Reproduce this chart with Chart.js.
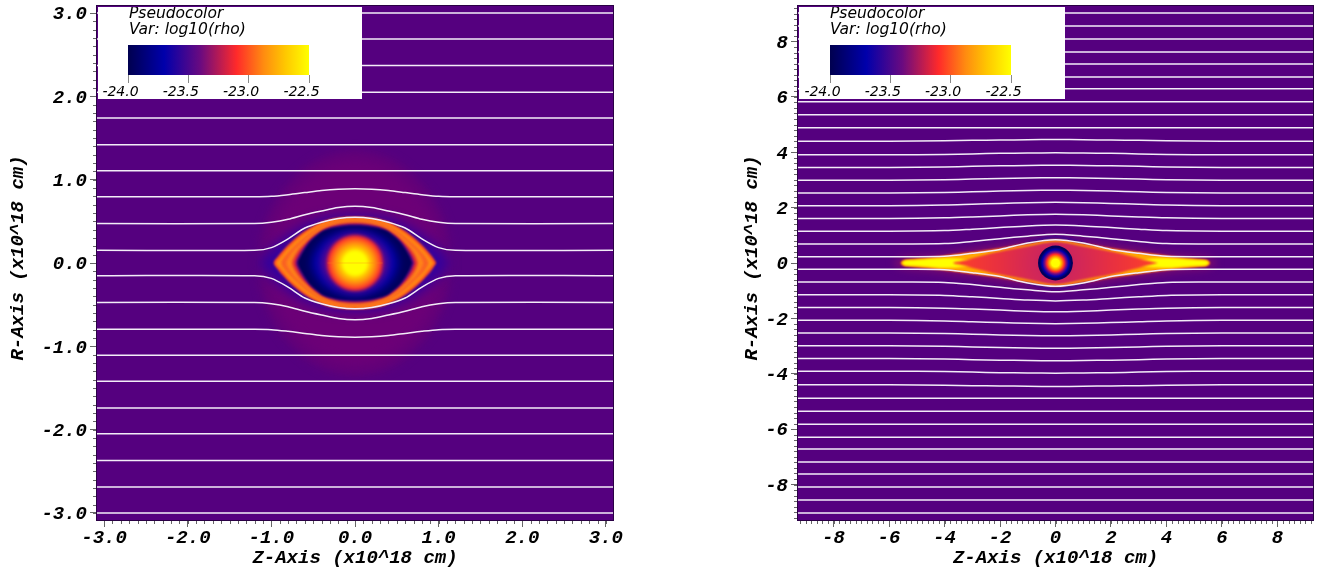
<!DOCTYPE html>
<html><head><meta charset="utf-8">
<style>
html,body{margin:0;padding:0;background:#fff;width:1328px;height:574px;overflow:hidden}
canvas{position:absolute;display:block}
#lp{background:#fff}#rp{background:#fff}
#ll,#rl{background:#fff}
</style>
<script src="https://cdn.jsdelivr.net/npm/chart.js@4"></script>
</head><body>
<canvas id="lp" width="664" height="574" style="left:0;top:0;width:664px;height:574px"></canvas>
<canvas id="rp" width="664" height="574" style="left:664px;top:0;width:664px;height:574px"></canvas>
<canvas id="ll" width="264" height="92" style="left:98px;top:7px;width:264px;height:92px"></canvas>
<canvas id="rl" width="266" height="92" style="left:799px;top:7px;width:266px;height:92px"></canvas>
<script>
// ---------- axis data ----------
const axisTitleX = 'Z-Axis (x10^18 cm)';
const axisTitleY = 'R-Axis (x10^18 cm)';
const leftRange = 3.085;
const leftTicks = [-3,-2,-1,0,1,2,3];
const rightRange = 9.28;
const rightTicks = [-8,-6,-4,-2,0,2,4,6,8];
const colorbarTicks = [-24,-23.5,-23,-22.5];
const colorbarStops = [[0,'#00004f'],[0.2,'#0000ab'],[0.4,'#6a0a80'],[0.6,'#ff2a2a'],[0.75,'#ff8c10'],[0.87,'#ffc800'],[1,'#ffff00']];
const legendLines = ['Pseudocolor','Var: log10(rho)'];
const bgColor = '#55007f';

// ---------- left panel contours: first quadrant, tip -> top, mirrored when drawn ----------
const lHaloOuter = [[1.16,0],[1.1,.42],[.95,.76],[.7,1.06],[.4,1.27],[0,1.36]];
const lHaloInner = [[1.02,0],[.98,.36],[.85,.68],[.62,.95],[.35,1.14],[0,1.22]];
const lBlueGlow  = [[1.14,0],[1.03,.15],[.87,.29],[.68,.42],[.42,.53],[.2,.57],[0,.58]];
const lEdge      = [[.972,0],[.92,.08],[.853,.16],[.733,.28],[.573,.40],[.373,.50],[.2,.54],[0,.553]];
const lOrangeA   = [[.945,0],[.89,.07],[.82,.155],[.71,.265],[.555,.385],[.365,.485],[.2,.525],[0,.54]];
const lRedA      = [[.885,0],[.84,.08],[.77,.16],[.67,.255],[.53,.37],[.35,.47],[.19,.515],[0,.53]];
const lOrangeB   = [[.82,0],[.79,.07],[.73,.155],[.64,.24],[.51,.355],[.34,.455],[.18,.5],[0,.515]];
const lRedB      = [[.75,0],[.72,.08],[.66,.17],[.585,.25],[.49,.335],[.35,.42],[.18,.47],[0,.485]];
const lPurple    = [[.71,0],[.68,.08],[.625,.17],[.555,.255],[.47,.33],[.35,.405],[.18,.452],[0,.465]];
const lCavity    = [[.685,0],[.653,.08],[.6,.17],[.533,.26],[.45,.335],[.373,.39],[.25,.425],[.12,.445],[0,.449]];
const lBlue      = [[.52,0],[.48,.14],[.38,.27],[.25,.35],[.12,.39],[0,.40]];
const lInnerPur  = [[.40,0],[.37,.12],[.29,.23],[.19,.30],[.09,.34],[0,.35]];
const lCore      = [[.34,0],[.315,.13],[.24,.24],[.13,.315],[0,.34]];
const lCoreStops = [[0,'#ffff00'],[.4,'#ffff00'],[.52,'#ffc800'],[.7,'#ff8c10'],[.9,'#ff3a28'],[1,'rgba(200,20,70,.7)']];
const lCoreRadius = .34;
const lStreak = [[-.33,0],[.33,0]];

// ---------- left panel streamlines ----------
const lStreamHalfX = [0,.2,.4,.6,.8,1.0,1.2,3.085];
const lStreamC = [.55,.535,.49,.42,.29,.185,.153,.153];
const lStreamB = [.68,.665,.625,.58,.525,.49,.475,.473];
const lStreamA = [.89,.885,.87,.845,.82,.80,.795,.795];
const lFlatLevels = [1.108,1.42,1.74,2.05,2.37,2.69,3.0];

// ---------- right panel contours ----------
const rHalo   = [[5.85,0],[5.5,.22],[4.4,.33],[3.2,.5],[2.1,.66],[.9,.87],[0,1.0]];
const rBlue   = [[1.5,0],[1.25,.6],[.6,.86],[0,.94]];
const rEdge   = [[5.58,0],[5.47,.1],[5.2,.13],[4.4,.22],[3.2,.37],[2.1,.52],[.9,.72],[.4,.82],[0,.86]];
const rOrange = [[5.55,0],[5.43,.09],[5.15,.115],[4.3,.18],[3.2,.33],[2.1,.47],[.9,.67],[.4,.78],[0,.81]];
const rYellow = [[5.53,0],[5.42,.08],[5.1,.1],[4.4,.15],[3.9,.17],[3.3,.13],[2.9,0]];
const rRedLens= [[3.7,0],[3.3,.09],[2.8,.23],[2.1,.40],[.9,.62],[.4,.73],[0,.77]];
const rLensStops = [[0,'#b81c5c'],[.2,'#d0265a'],[.55,'#e83040'],[1,'#ff4028']];
const rLensRadius = 3.7;
const rCavity = [[.63,0],[.58,.24],[.445,.445],[.24,.58],[0,.63]];
const rCavityStops = [[0,'#ffff00'],[.22,'#ffff00'],[.36,'#ffa000'],[.5,'#ff2a2a'],[.62,'#7a0a80'],[.76,'#0000b0'],[.9,'#00005a'],[1,'#00005a']];
const rCavityRadius = .63;

// ---------- right panel streamlines ----------
const rStreamHalfX = [0,1,2,3,4,6,9.28];
const rStream0 = [.84,.72,.49,.35,.24,.23,.23];
const rStream1 = [1.04,.97,.88,.78,.70,.69,.69];
const rStream2 = [1.37,1.34,1.28,1.22,1.17,1.15,1.15];
const rStream3 = [1.76,1.74,1.70,1.66,1.63,1.61,1.61];
const rStream4 = [2.19,2.18,2.15,2.12,2.09,2.07,2.07];
const rStream5 = [2.63,2.62,2.60,2.57,2.55,2.53,2.53];
const rStream6 = [3.08,3.07,3.05,3.03,3.01,2.99,2.99];
const rStream7 = [3.53,3.52,3.51,3.49,3.47,3.45,3.45];
const rStream8 = [3.98,3.97,3.96,3.94,3.92,3.91,3.91];
const rStream9 = [4.46,4.45,4.44,4.43,4.41,4.40,4.40];
const rFlatLevels = [4.88,5.35,5.82,6.29,6.72,7.19,7.62,8.09,8.56,9.03];

// ---------- helpers ----------
function outline(q){
  const pts = q.map(p=>({x:p[0],y:p[1]}));
  for(let i=q.length-2;i>=0;i--) pts.push({x:-q[i][0],y:q[i][1]});
  for(let i=1;i<q.length;i++) pts.push({x:-q[i][0],y:-q[i][1]});
  for(let i=q.length-2;i>=0;i--) pts.push({x:q[i][0],y:-q[i][1]});
  return pts;
}
function tipShape(q,sign){
  const pts = q.map(p=>({x:sign*p[0],y:p[1]}));
  for(let i=q.length-2;i>=0;i--) pts.push({x:sign*q[i][0],y:-q[i][1]});
  return pts;
}
function radial(stops,radius,fallback){
  return c=>{
    const ch=c.chart; if(!ch.chartArea) return fallback;
    const cx=ch.scales.x.getPixelForValue(0), cy=ch.scales.y.getPixelForValue(0);
    const r=Math.abs(ch.scales.x.getPixelForValue(radius)-cx);
    const g=ch.ctx.createRadialGradient(cx,cy,0,cx,cy,r);
    stops.forEach(s=>g.addColorStop(s[0],s[1]));
    return g;
  };
}
const shell=(data,color,blur,tension=.35)=>({data,backgroundColor:color,borderWidth:0,fill:'shape',pointRadius:0,showLine:true,tension,blurPx:blur});
const stroke=(data,color,width,tension=.3)=>({data,borderColor:color,borderWidth:width,fill:false,pointRadius:0,showLine:true,tension,blurPx:0});
const lineColor='#f3ecf8', lineWidth=1.5;
function streamlines(halfX,rows,flats,range){
  const out=[];
  rows.forEach(r=>{
    [1,-1].forEach(s=>{
      const pts=[];
      for(let i=halfX.length-1;i>0;i--) pts.push({x:-halfX[i],y:s*r[i]});
      for(let i=0;i<halfX.length;i++) pts.push({x:halfX[i],y:s*r[i]});
      out.push(stroke(pts,lineColor,lineWidth));
    });
  });
  flats.forEach(v=>{[1,-1].forEach(s=>out.push(stroke([{x:-range,y:s*v},{x:range,y:s*v}],lineColor,lineWidth,0)));});
  return out;
}
const panelPlugin={
  id:'panel',
  beforeDraw(ch){
    const a=ch.chartArea,c=ch.ctx;
    c.save();c.fillStyle=bgColor;c.fillRect(a.left,a.top,a.width,a.height);c.restore();
  },
  beforeDatasetsDraw(ch){ const d=ch.data.datasets[0]; ch.ctx.filter=d.blurPx?`blur(${d.blurPx}px)`:'none'; },
  afterDatasetDraw(ch,args){
    const d=ch.data.datasets[args.index+1];
    ch.ctx.filter=(d&&d.blurPx)?`blur(${d.blurPx}px)`:'none';
  },
  afterDatasetsDraw(ch){ ch.ctx.filter='none'; },
  afterDraw(ch,args,opts){
    const c=ch.ctx,a=ch.chartArea,xs=ch.scales.x,ys=ch.scales.y,step=opts.minorStep,range=opts.range;
    c.save();
    c.strokeStyle='#666';c.lineWidth=1;
    c.beginPath();
    const n=Math.floor(range/step);
    for(let i=-n;i<=n;i++){
      const v=i*step;
      const px=Math.round(xs.getPixelForValue(v))+.5;
      c.moveTo(px,a.bottom);c.lineTo(px,a.bottom+4);
      const py=Math.round(ys.getPixelForValue(v))+.5;
      c.moveTo(a.left,py);c.lineTo(a.left-4,py);
    }
    c.stroke();
    c.strokeStyle='#2a0045';
    c.strokeRect(a.left-.5,a.top-.5,a.width+1,a.height+1);
    // y-axis title, centred slightly above the plot middle as in the reference
    c.translate(opts.titleX,258);c.rotate(-Math.PI/2);
    c.font='italic bold 19px "Liberation Mono"';c.fillStyle='#000';c.textAlign='center';c.textBaseline='middle';
    c.fillText(axisTitleY,0,0);
    c.restore();
  }
};
function makePanel(id,datasets,range,ticks,fmt,leftW,rightPad,minorStep,titleX){
  const axisFont={family:'Liberation Mono',weight:'bold',style:'italic',size:19};
  datasets.forEach((d,i)=>{d.order=datasets.length-i;});
  return new Chart(document.getElementById(id),{
    type:'scatter',
    data:{datasets},
    plugins:[panelPlugin],
    options:{
      responsive:false,animation:false,devicePixelRatio:1,
      layout:{padding:{top:6,right:rightPad,left:0,bottom:0}},
      plugins:{legend:{display:false},tooltip:{enabled:false},title:{display:false},panel:{minorStep,range,titleX}},
      scales:{
        x:{type:'linear',min:-range,max:range,
          afterBuildTicks:s=>{s.ticks=ticks.map(v=>({value:v}));},
          afterFit:s=>{s.height=54;s.paddingLeft=0;s.paddingRight=0;},
          grid:{drawOnChartArea:false,drawTicks:true,tickLength:7,color:'#666'},border:{display:false},
          ticks:{callback:fmt,font:axisFont,color:'#000',padding:0,maxRotation:0,autoSkip:false},
          title:{display:true,text:axisTitleX,font:axisFont,color:'#000',padding:{top:0,bottom:4}}},
        y:{type:'linear',min:-range,max:range,
          afterBuildTicks:s=>{s.ticks=ticks.map(v=>({value:v}));},
          afterFit:s=>{s.width=leftW;s.paddingTop=0;s.paddingBottom=0;},
          grid:{drawOnChartArea:false,drawTicks:true,tickLength:7,color:'#666'},border:{display:false},
          ticks:{callback:fmt,font:axisFont,color:'#000',padding:3,labelOffset:1.5,autoSkip:false},
          title:{display:false}}
      }
    }
  });
}
function makeLegend(id,w,left){
  const tickFont={family:'DejaVu Sans',style:'italic',size:14};
  return new Chart(document.getElementById(id),{
    type:'bar',
    data:{labels:[''],datasets:[{data:[[colorbarTicks[0],colorbarTicks[3]]],barPercentage:1,categoryPercentage:1,borderWidth:0,
      backgroundColor:c=>{
        const ch=c.chart;if(!ch.chartArea) return '#000';
        const g=ch.ctx.createLinearGradient(ch.chartArea.left,0,ch.chartArea.right,0);
        colorbarStops.forEach(s=>g.addColorStop(s[0],s[1]));return g;
      }}]},
    plugins:[{id:'legendText',afterDraw(ch){
      const c=ch.ctx;c.save();c.fillStyle='#000';c.font='italic 15.5px "DejaVu Sans"';c.textBaseline='alphabetic';
      c.fillText(legendLines[0],31,10.5);c.fillText(legendLines[1],31,26.5);c.restore();
    }}],
    options:{
      indexAxis:'y',responsive:false,animation:false,devicePixelRatio:1,
      layout:{padding:{left,right:w-left-181,top:38,bottom:0}},
      plugins:{legend:{display:false},tooltip:{enabled:false}},
      scales:{
        y:{display:false},
        x:{type:'linear',min:-24,max:-22.5,
          afterBuildTicks:s=>{s.ticks=colorbarTicks.map(v=>({value:v}));},
          afterFit:s=>{s.height=24;s.paddingLeft=0;s.paddingRight=0;},
          grid:{drawOnChartArea:false,tickLength:8,color:'#888'},border:{display:false},
          ticks:{callback:v=>v.toFixed(1),font:tickFont,color:'#000',padding:1,labelOffset:-7.5,maxRotation:0,autoSkip:false}}
      }
    }
  });
}
// ---------- build ----------
const leftSets=[
  shell(outline(lHaloOuter),'#620079',4),
  shell(outline(lHaloInner),'#6c0077',6),
  shell(outline(lBlueGlow),'rgba(40,0,165,.8)',6),
  shell(outline(lEdge),'#ff4a20',1.2),
  shell(outline(lOrangeA),'#ff9410',1.5),
  shell(outline(lRedA),'#fa6024',1.8),
  shell(outline(lOrangeB),'#ff8418',1.8),
  shell(outline(lRedB),'#e02838',1.8),
  shell(outline(lPurple),'#6a0a80',1.2),
  shell(outline(lCavity),'#00005a',.8),
  shell(outline(lBlue),'#0000b0',4),
  shell(outline(lInnerPur),'#6a0a88',4),
  shell(outline(lCore),radial(lCoreStops,lCoreRadius,'#ff0'),1.5),
  stroke(lStreak.map(p=>({x:p[0],y:p[1]})),'rgba(255,130,30,.35)',1.2,0),
  ...streamlines(lStreamHalfX,[lStreamC,lStreamB,lStreamA],lFlatLevels,leftRange)
];
const rightSets=[
  shell(outline(rHalo),'#760a70',3.5),
  shell(outline(rBlue),'rgba(20,0,170,.85)',1.5),
  shell(outline(rEdge),'#ff5a18',1),
  shell(outline(rOrange),'#ffaa00',.8),
  shell(tipShape(rYellow,1),'#ffff00',1),
  shell(tipShape(rYellow,-1),'#ffff00',1),
  shell(outline(rRedLens),radial(rLensStops,rLensRadius,'#f33'),1.2),
  shell(outline(rCavity),radial(rCavityStops,rCavityRadius,'#006'),.5),
  ...streamlines(rStreamHalfX,[rStream0,rStream1,rStream2,rStream3,rStream4,rStream5,rStream6,rStream7,rStream8,rStream9],rFlatLevels,rightRange)
];
makePanel('lp',leftSets,leftRange,leftTicks,v=>v.toFixed(1),97,51,.1,18);
makePanel('rp',rightSets,rightRange,rightTicks,v=>String(v),134,15,.2,88);
makeLegend('ll',264,30);
makeLegend('rl',266,31);
</script>
</body></html>
